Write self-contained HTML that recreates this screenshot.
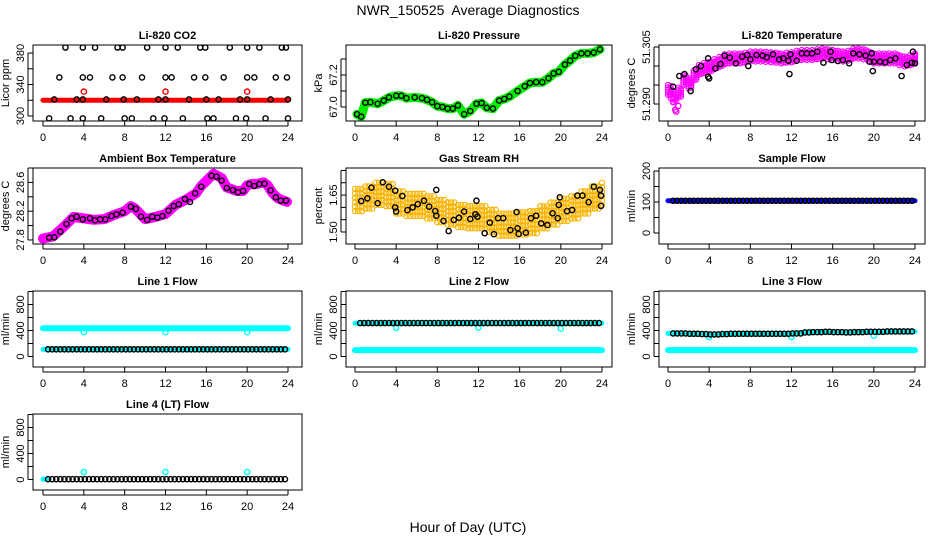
<!DOCTYPE html>
<html><head><meta charset="utf-8"><style>
html,body{margin:0;padding:0;background:#fff;}
svg{display:block;font-family:"Liberation Sans",Arial,sans-serif;}
</style></head><body>
<svg id="chart" width="936" height="540" viewBox="0 0 936 540" xmlns="http://www.w3.org/2000/svg">
<text x="468" y="15" text-anchor="middle" font-size="14">NWR_150525&#160; Average Diagnostics</text>
<text x="468" y="532" text-anchor="middle" font-size="14">Hour of Day (UTC)</text>
</svg>
<script>
// ---------- data ----------
const xTicks = [0,4,8,12,16,20,24];
const flowTimes = [0.5,0.9,1.3,1.7,2.1,2.5,2.9,3.3,3.7,4.1,4.5,4.9,5.3,5.7,6.1,6.5,6.9,7.3,7.7,8.1,8.5,8.9,9.3,9.7,10.1,10.5,10.9,11.3,11.7,12.1,12.5,12.9,13.3,13.7,14.1,14.5,14.9,15.3,15.7,16.1,16.5,16.9,17.3,17.7,18.1,18.5,18.9,19.3,19.7,20.1,20.5,20.9,21.3,21.7,22.1,22.5,22.9,23.3,23.7];

const co2Times = [2.2,3.9,5.1,7.3,7.8,10.2,12.0,13.2,15.4,15.9,18.3,20.0,21.2,23.4,23.8, 1.6,3.9,4.6,6.8,7.8,9.7,12.0,12.6,14.8,15.9,17.7,20.0,20.7,22.8,23.9, 1.1,3.3,3.9,6.2,7.9,9.2,11.3,12.0,14.3,16.0,17.2,19.3,20.0,22.3,24.0, 0.6,2.7,3.9,5.7,8.0,8.7,10.8,11.9,13.7,16.1,16.7,18.9,19.9,21.8,24.0];
const co2Vals = [387,387,387,387,387,387,387,387,387,387,387,387,387,387,387, 349,349,349,349,349,349,349,349,349,349,349,349,349,349,349, 321,321,321,321,321,321,321,321,321,321,321,321,321,321,321, 297,297,297,297,297,297,297,297,297,297,297,297,297,297,297];
const co2Red = 320;
const co2RedTimes = [4,12,20];
const co2RedVals = [331,331,331];

const presTimes = [0.2,0.6,1.0,1.5,2.2,2.8,3.3,4.0,4.5,5.0,5.8,6.5,7.0,7.5,8.0,8.5,9.0,9.5,10.0,10.6,11.2,11.8,12.3,12.8,13.4,14.0,14.5,15.0,15.8,16.5,17.0,17.6,18.2,18.8,19.3,19.8,20.4,20.9,21.4,22.0,22.6,23.2,23.8];
const presVals = [66.955,66.94,67.027,67.03,67.02,67.04,67.06,67.07,67.07,67.055,67.06,67.055,67.045,67.03,67.005,67.0,66.99,66.99,67.01,66.955,66.975,67.02,67.025,66.995,66.99,67.04,67.05,67.065,67.1,67.13,67.15,67.155,67.155,67.18,67.21,67.22,67.265,67.29,67.32,67.335,67.335,67.34,67.36];

const tempPinkTimes = [0,0.5,1,1.5,2,2.5,3,3.5,4,4.5,5,5.5,6,6.5,7,7.5,8,8.5,9,9.5,10,10.5,11,11.5,12,12.5,13,13.5,14,14.5,15,15.5,16,16.5,17,17.5,18,18.5,19,19.5,20,20.5,21,21.5,22,22.5,23,23.5,24];
const tempPinkVals = [51.2937,51.2919,51.2930,51.2963,51.2954,51.2975,51.2990,51.2995,51.2998,51.3005,51.3011,51.3018,51.3020,51.3020,51.3020,51.3022,51.3025,51.3025,51.3025,51.3024,51.3023,51.3022,51.3020,51.3022,51.3023,51.3027,51.3029,51.3029,51.3029,51.3031,51.3033,51.3031,51.3029,51.3027,51.3025,51.3027,51.3033,51.3033,51.3031,51.3025,51.3020,51.3020,51.3020,51.3020,51.3020,51.3015,51.3012,51.3015,51.3020];
const tempPinkSpread = 0.0013;
const tempLowTimes = [0.2,0.3,0.5,0.7,0.8,1.0];
const tempLowVals = [51.2925,51.2915,51.2905,51.2885,51.2880,51.2895];
const tempTimes = [0.5,1.1,1.6,2.2,2.7,3.2,3.9,3.9,4.0,4.6,5.1,5.5,6.0,6.6,7.2,7.7,7.8,8.0,8.6,9.2,9.6,10.2,10.8,11.2,11.7,11.8,11.9,12.5,13.0,13.5,14.0,14.5,15.1,15.8,15.9,16.5,17.0,17.6,18.0,18.6,19.2,19.6,19.8,19.9,20.0,20.6,21.1,21.6,22.1,22.7,23.2,23.7,23.8,24.0];
const tempVals = [51.29456,51.29737,51.29789,51.29342,51.29913,51.30000,51.30202,51.29719,51.29675,51.29939,51.30053,51.30272,51.30219,51.30070,51.30246,51.30289,51.30000,51.30175,51.30289,51.30272,51.30228,51.30307,51.30175,51.30202,51.30140,51.29789,51.30307,51.30140,51.30333,51.30333,51.30333,51.30377,51.30088,51.30377,51.30158,51.30132,51.30158,51.30070,51.30333,51.30307,51.30272,51.30114,51.30333,51.29868,51.30114,51.30114,51.30096,51.30158,51.30202,51.29737,51.30026,51.30088,51.30377,51.30070];

const ambPinkTimes = [0,1,2,3,4,5,6,7,8,8.6,9,10,11,12,13,14,15,15.5,16,16.7,17.5,18,19,19.6,20,20.5,21,21.6,22,22.5,23,23.5,23.9];
const ambPinkVals = [27.82,27.85,27.98,28.12,28.10,28.08,28.09,28.15,28.2,28.27,28.24,28.09,28.12,28.16,28.29,28.36,28.45,28.55,28.62,28.72,28.66,28.53,28.48,28.48,28.56,28.58,28.58,28.6,28.56,28.45,28.38,28.35,28.33];
const ambTimes = [0.6,1.1,1.7,2.3,2.8,3.3,3.9,4.6,5.1,5.6,6.1,6.7,7.2,7.8,8.6,9.1,9.6,10.2,10.7,11.2,11.7,12.3,12.8,13.3,13.9,14.4,14.9,15.5,16.5,17.0,17.5,18.0,18.6,19.1,19.6,20.2,20.7,21.2,21.7,22.3,22.8,23.3,23.8];
const ambVals = [27.832,27.837,27.916,28.022,28.101,28.124,28.087,28.101,28.073,28.087,28.087,28.133,28.157,28.180,28.263,28.231,28.124,28.078,28.124,28.110,28.133,28.207,28.272,28.296,28.369,28.328,28.448,28.541,28.693,28.680,28.624,28.522,28.494,28.462,28.481,28.578,28.550,28.578,28.582,28.490,28.393,28.346,28.346];

const rhCloudTimes = [0,1,2,3,4,5,6,7,8,9,10,11,12,13,14,15,16,17,18,19,20,21,22,23,24];
const rhCloudVals = [1.63,1.64,1.655,1.65,1.62,1.61,1.61,1.60,1.585,1.575,1.565,1.56,1.56,1.545,1.53,1.53,1.535,1.54,1.56,1.575,1.59,1.60,1.62,1.64,1.655];
const rhSpread = 0.045;
const rhTimes = [0.6,1.2,1.6,2.2,2.7,3.3,3.9,3.9,4.0,4.6,5.1,5.6,6.1,6.7,7.2,7.8,7.9,7.9,8.6,9.1,9.6,10.1,10.6,11.2,11.7,11.8,11.9,12.6,13.1,13.5,13.9,14.4,15.1,15.7,15.8,15.9,16.6,17.1,17.6,18.1,18.7,19.2,19.7,19.8,19.9,20.6,21.1,21.6,22.1,22.7,23.2,23.8,23.9,23.9];
const rhVals = [1.626,1.637,1.680,1.617,1.702,1.684,1.668,1.600,1.583,1.646,1.589,1.600,1.613,1.627,1.603,1.585,1.671,1.566,1.545,1.504,1.549,1.558,1.583,1.553,1.572,1.627,1.562,1.495,1.538,1.491,1.556,1.556,1.508,1.581,1.515,1.492,1.497,1.556,1.566,1.535,1.528,1.576,1.556,1.610,1.641,1.585,1.589,1.648,1.648,1.621,1.684,1.671,1.648,1.606];

const sampleBlue = 104;
const sampleBlack = 104;

const line1Upper = 435, line1Lower = 110, line1Black = 110;
const line1DipTimes = [4,12,20], line1DipVals = [375,375,375];
const line2Upper = 512, line2Lower = 98, line2Black = 515;
const line2DipTimes = [4,12,20], line2DipVals = [440,445,430];
const line3Hourly = [355,355,350,345,340,345,350,350,350,350,350,350,355,370,375,380,375,370,375,380,380,385,385,385,385];
const line3Lower = 98;
const line3DipTimes = [4,12,20], line3DipVals = [300,300,320];
const line4Black = 5;
const line4DipTimes = [4,12,20], line4DipVals = [115,115,115];

// ---------- layout ----------
const NS = "http://www.w3.org/2000/svg";
const svg = document.getElementById("chart");
const cols = [{l:33,r:302,x0:43,x24:288},{l:346,r:612,x0:355,x24:602},{l:659,r:925,x0:668,x24:915}];
const rowTops = [45,168,291,414];
const BOXH = 76;

function el(tag, attrs, parent){
  const e = document.createElementNS(NS, tag);
  for (const k in attrs) e.setAttribute(k, attrs[k]);
  (parent||svg).appendChild(e);
  return e;
}

function panel(ci, ri, name, title, ytitle, ymin, ymax, ticks, labels, fmt){
  const c = cols[ci], top = rowTops[ri], bot = top + BOXH;
  const g = el("g", {});
  
  
  const sx = t => c.x0 + (t/24)*(c.x24 - c.x0);
  const sy = v => bot - (v - ymin)/(ymax - ymin)*BOXH;
  const t = el("text", {x:(c.l+c.r)/2, y:top-6, "text-anchor":"middle", "font-size":"11", "font-weight":"bold"}, g);
  t.textContent = title;
  
  
  const yt = el("text", {x:0, y:0, "text-anchor":"middle", "font-size":"11", transform:`translate(${c.l-24},${top+BOXH/2}) rotate(-90)`}, g);
  yt.textContent = ytitle;
  
  
  const yax = el("g", {stroke:"#000", "stroke-width":"1"}, g);
  
  
  el("line", {x1:c.l-5, x2:c.l-5, y1:sy(ticks[0]), y2:sy(ticks[ticks.length-1])}, yax);
  ticks.forEach(v => { el("line", {x1:c.l-5, x2:c.l, y1:sy(v), y2:sy(v)}, yax); });
  labels.forEach(v => {
    const lt = el("text", {x:0, y:0, "text-anchor":"middle", "font-size":"11", stroke:"none", transform:`translate(${c.l-9},${sy(v)}) rotate(-90)`}, yax);
    lt.textContent = fmt(v);
    
    
  });
  const xax = el("g", {stroke:"#000", "stroke-width":"1"}, g);
  
  
  el("line", {x1:sx(0), x2:sx(24), y1:bot+5, y2:bot+5}, xax);
  xTicks.forEach(h => {
    el("line", {x1:sx(h), x2:sx(h), y1:bot, y2:bot+5}, xax);
    const xt = el("text", {x:sx(h), y:bot+20, "text-anchor":"middle", "font-size":"11", stroke:"none"}, xax);
    xt.textContent = h;
    
    
  });
  const plot = el("g", {}, g);
  
  
  const cp = el("clipPath", {id:"clip-"+name}, g);
  el("rect", {x:c.l, y:top, width:c.r-c.l, height:BOXH}, cp);
  plot.setAttribute("clip-path", "url(#clip-"+name+")");
  const box = el("rect", {x:c.l, y:top, width:c.r-c.l, height:BOXH, fill:"none", stroke:"#000", "stroke-width":"1"}, g);
  
  
  return {sx, sy, plot};
}

function circ(p, t, v, color, nm, sw){
  const e = el("circle", {cx:p.sx(t), cy:p.sy(v), r:2.6, fill:"none", stroke:color, "stroke-width":sw||"1.4"}, p.plot);
  
  
  return e;
}
function band(p, times, vals, color, w, nm){
  const pts = times.map((t,i)=>p.sx(t)+","+p.sy(vals[i])).join(" ");
  const e = el("polyline", {points:pts, fill:"none", stroke:color, "stroke-width":w, "stroke-linejoin":"round", "stroke-linecap":"round"}, p.plot);
  
  
}
const f0 = v => String(v);
const f1 = v => v.toFixed(1);
const f2 = v => v.toFixed(2);
const f3 = v => v.toFixed(3);

// 1 CO2
let p = panel(0,0,"co2","Li-820 CO2","Licor ppm",293.65,390.2,[300,320,340,360,380],[300,340,380],f0);
band(p,[0,24],[co2Red,co2Red],"#ff0000",5,"co2-red-band");
co2RedTimes.forEach((t,i)=>circ(p,t,co2RedVals[i],"#ff0000","co2-red-point"));
co2Times.forEach((t,i)=>circ(p,t,co2Vals[i],"#000","co2-point"));

// 2 Pressure
p = panel(1,0,"pressure","Li-820 Pressure","kPa",66.9125,67.3875,[67.0,67.1,67.2,67.3],[67.0,67.2],f1);
band(p,presTimes,presVals,"#00ee00",9,"pressure-green-band");
presTimes.forEach((t,i)=>circ(p,t,presVals[i],"#000","pressure-point"));

// 3 Li-820 Temperature
p = panel(2,0,"li820-temp","Li-820 Temperature","degrees C",51.28553,51.30553,[51.290,51.295,51.300,51.305],[51.290,51.305],f3);
tempPinkTimes.forEach((t,i)=>{
  [-1,-0.5,0,0.5,1].forEach(k=>{
    circ(p,t,tempPinkVals[i]+k*tempPinkSpread,"#ff00ff","li820-temp-pink-point","1.1");
    circ(p,Math.min(24,t+0.25),tempPinkVals[i]+(k*0.8)*tempPinkSpread,"#ff00ff","li820-temp-pink-point","1.1");
  });
});
tempLowTimes.forEach((t,i)=>circ(p,t,tempLowVals[i],"#ff00ff","li820-temp-pink-point"));
tempTimes.forEach((t,i)=>circ(p,t,tempVals[i],"#000","li820-temp-point"));

// 4 Ambient
p = panel(0,1,"ambient-temp","Ambient Box Temperature","degrees C",27.744,28.8,[27.8,28.0,28.2,28.4,28.6,28.8],[27.8,28.2,28.6],f1);
band(p,ambPinkTimes,ambPinkVals,"#ff00ff",10,"ambient-pink-band");
ambTimes.forEach((t,i)=>circ(p,t,ambVals[i],"#000","ambient-point"));

// 5 RH
p = panel(1,1,"gas-rh","Gas Stream RH","percent",1.4512,1.760,[1.50,1.55,1.60,1.65,1.70,1.75],[1.50,1.65],f2);
rhCloudTimes.forEach((t,i)=>{
  [0,0.33,0.67].forEach(dt=>{
    if (t+dt>24) return;
    [-1,-0.6,-0.2,0.2,0.6,1].forEach(k=>{
      circ(p,t+dt,rhCloudVals[i]+k*rhSpread,"#f8b400","rh-orange-point","1.2");
    });
  });
});
rhTimes.forEach((t,i)=>circ(p,t,rhVals[i],"#000","rh-point"));

// 6 Sample flow
p = panel(2,1,"sample-flow","Sample Flow","ml/min",-35.5,209.7,[0,50,100,150,200],[0,100,200],f0);
band(p,[0,24],[sampleBlue,sampleBlue],"#0000ff",5,"sample-blue-band");
flowTimes.forEach(t=>circ(p,t,sampleBlack,"#000","sample-flow-point"));

const flowTicks=[0,200,400,600,800,1000], flowLabels=[0,400,800];
// 7 Line 1
p = panel(0,2,"line1-flow","Line 1 Flow","ml/min",-161.5,1007.7,flowTicks,flowLabels,f0);
band(p,[0,24],[line1Upper,line1Upper],"#00ffff",6,"line1-upper-band");
band(p,[0,24],[line1Lower,line1Lower],"#00ffff",5,"line1-lower-band");
line1DipTimes.forEach((t,i)=>circ(p,t,line1DipVals[i],"#00ffff","line1-dip-point"));
flowTimes.forEach(t=>circ(p,t,line1Black,"#000","line1-point"));

// 8 Line 2
p = panel(1,2,"line2-flow","Line 2 Flow","ml/min",-161.5,1007.7,flowTicks,flowLabels,f0);
band(p,[0,24],[line2Upper,line2Upper],"#00ffff",5,"line2-upper-band");
band(p,[0,24],[line2Lower,line2Lower],"#00ffff",6,"line2-lower-band");
line2DipTimes.forEach((t,i)=>circ(p,t,line2DipVals[i],"#00ffff","line2-dip-point"));
flowTimes.forEach(t=>circ(p,t,line2Black,"#000","line2-point"));

// 9 Line 3
p = panel(2,2,"line3-flow","Line 3 Flow","ml/min",-161.5,1007.7,flowTicks,flowLabels,f0);
band(p,line3Hourly.map((v,i)=>i),line3Hourly,"#00ffff",5,"line3-upper-band");
band(p,[0,24],[line3Lower,line3Lower],"#00ffff",6,"line3-lower-band");
line3DipTimes.forEach((t,i)=>circ(p,t,line3DipVals[i],"#00ffff","line3-dip-point"));
flowTimes.forEach(t=>circ(p,t,line3Hourly[Math.floor(t)],"#000","line3-point"));

// 10 Line 4
p = panel(0,3,"line4-flow","Line 4 (LT) Flow","ml/min",-161.5,1007.7,flowTicks,flowLabels,f0);
band(p,[0,0.4],[line4Black,line4Black],"#00ffff",5,"line4-cyan-band");
line4DipTimes.forEach((t,i)=>circ(p,t,line4DipVals[i],"#00ffff","line4-dip-point"));
flowTimes.forEach(t=>circ(p,t,line4Black,"#000","line4-point"));
</script>
</body></html>
